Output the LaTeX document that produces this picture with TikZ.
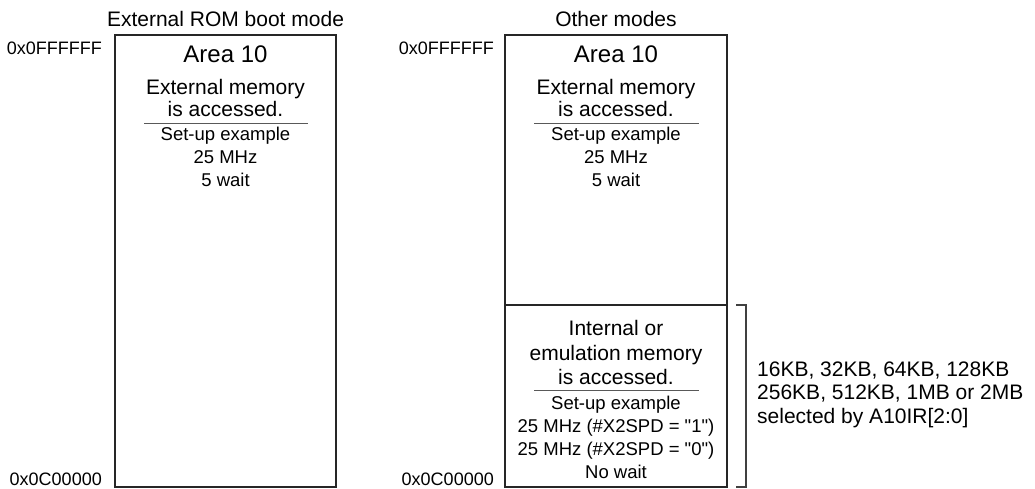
\documentclass[tikz,border=0pt]{standalone}
\usepackage{fontspec}
\newfontfamily\arial{Liberation Sans}
\begin{document}
\begin{tikzpicture}[x=1pt,y=-1pt,
  box/.style={draw=black!85,line width=1.4pt},
  sep/.style={draw=black!65,line width=0.9pt},
  brk/.style={draw=black!75,line width=1.3pt},
  txt/.style={inner sep=0pt,anchor=base},
  title/.style={txt,font=\arial\fontsize{21}{24}\selectfont},
  area/.style={txt,font=\arial\fontsize{24}{28}\selectfont},
  big/.style={txt,font=\arial\fontsize{21}{24}\selectfont},
  small/.style={txt,font=\arial\fontsize{18.5}{22}\selectfont},
  addr/.style={inner sep=0pt,anchor=base east,font=\arial\fontsize{18}{22}\selectfont},
  side/.style={inner sep=0pt,anchor=base west,font=\arial\fontsize{21}{24}\selectfont}]
\useasboundingbox (0,0) rectangle (1035,489);

% titles
\node[title] (t1) at (225.5,27) {External ROM boot mode};
\node[title] (t2) at (616,27) {Other modes};

% boxes
\draw[box] (115,35) rectangle (336,487);
\draw[box] (505,35) rectangle (727,487);
\draw[box] (505,305) -- (727,305);

% address labels
\node[addr] (a1) at (102,55) {0x0FFFFFF};
\node[addr] (a2) at (102,485) {0x0C00000};
\node[addr] (a3) at (494,55) {0x0FFFFFF};
\node[addr] (a4) at (494,485) {0x0C00000};

% left box text
\node[area]  (l1) at (225.5,63)  {Area 10};
\node[big]   (l2) at (225.5,95)  {External memory};
\node[big]   (l3) at (225.5,117) {is accessed.};
\draw[sep] (144,123) -- (308,123);
\node[small] (l4) at (225.5,141) {Set-up example};
\node[small] (l5) at (225.5,164) {25 MHz};
\node[small] (l6) at (225.5,186) {5 wait};

% right box upper text
\node[area]  (r1) at (616,63)  {Area 10};
\node[big]   (r2) at (616,95)  {External memory};
\node[big]   (r3) at (616,117) {is accessed.};
\draw[sep] (534,123) -- (699,123);
\node[small] (r4) at (616,141) {Set-up example};
\node[small] (r5) at (616,164) {25 MHz};
\node[small] (r6) at (616,186) {5 wait};

% right box lower text
\node[big]   (s1) at (616,335) {Internal or};
\node[big]   (s2) at (616,360) {emulation memory};
\node[big]   (s3) at (616,384) {is accessed.};
\draw[sep] (534,390) -- (699,390);
\node[small] (s4) at (616,409) {Set-up example};
\node[small] (s5) at (616,432) {25 MHz (\#X2SPD = "1")};
\node[small] (s6) at (616,455) {25 MHz (\#X2SPD = "0")};
\node[small] (s7) at (616,478) {No wait};

% bracket
\coordinate (b1) at (736,305);
\coordinate (b2) at (746,305);
\coordinate (b3) at (746,487);
\coordinate (b4) at (736,487);
\draw[brk] (b1) -- (b2) -- (b3) -- (b4);

% side text
\node[side] (x1) at (757,376) {16KB, 32KB, 64KB, 128KB};
\node[side] (x2) at (757,399) {256KB, 512KB, 1MB or 2MB};
\node[side] (x3) at (757,423) {selected by A10IR[2:0]};
\end{tikzpicture}
\end{document}
